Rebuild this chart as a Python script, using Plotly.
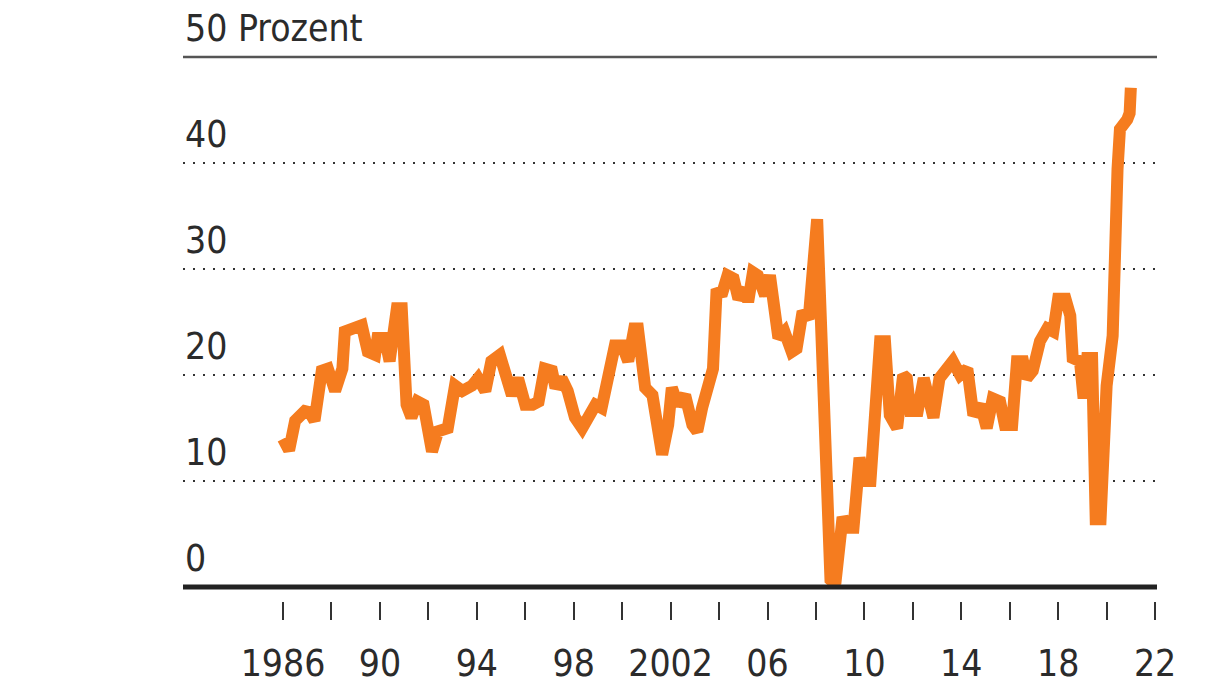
import plotly.graph_objects as go

# Anteil in Prozent (Jahr als Dezimalzahl)
years = [
    1986.0, 1986.25, 1986.5, 1986.9, 1987.1, 1987.3, 1987.6, 1987.85, 1988.15, 1988.45,
    1988.55, 1988.95, 1989.25, 1989.5, 1989.8, 1989.9, 1990.2, 1990.4, 1990.7, 1990.9,
    1991.1, 1991.3, 1991.55, 1991.8, 1992.0, 1992.15, 1992.4, 1992.8, 1993.1, 1993.4,
    1993.8, 1994.05, 1994.35, 1994.6, 1994.95, 1995.15, 1995.45, 1995.7, 1996.0, 1996.3,
    1996.55, 1996.8, 1997.1, 1997.25, 1997.5, 1997.75, 1998.05, 1998.35, 1998.6, 1998.9,
    1999.15, 1999.4, 1999.7, 2000.0, 2000.25, 2000.5, 2000.65, 2000.8, 2000.95, 2001.25,
    2001.5, 2001.65, 2001.9, 2002.05, 2002.3, 2002.6, 2002.9, 2003.1, 2003.3, 2003.55,
    2003.75, 2003.9, 2004.1, 2004.35, 2004.6, 2004.8, 2005.1, 2005.2, 2005.4, 2005.6,
    2005.9, 2006.1, 2006.3, 2006.45, 2006.7, 2007.0, 2007.2, 2007.45, 2007.7, 2008.05,
    2008.6, 2008.8, 2009.1, 2009.3, 2009.55, 2009.8, 2010.0, 2010.25, 2010.65, 2010.85,
    2011.05, 2011.35, 2011.6, 2011.75, 2011.9, 2012.2, 2012.45, 2012.65, 2012.85, 2013.1,
    2013.4, 2013.65, 2013.95, 2014.25, 2014.5, 2014.8, 2015.05, 2015.3, 2015.6, 2015.8,
    2016.1, 2016.3, 2016.55, 2016.7, 2016.95, 2017.25, 2017.55, 2017.8, 2018.0, 2018.3,
    2018.5, 2018.6, 2018.9, 2019.05, 2019.2, 2019.4, 2019.55, 2019.75, 2020.0, 2020.25,
    2020.45, 2020.55, 2020.85, 2020.95, 2021.0,
]
share = [
    14.0, 12.9, 15.7, 16.6, 16.5, 15.7, 20.4, 20.6, 18.5, 20.6,
    24.1, 24.4, 24.7, 22.2, 21.9, 23.5, 23.5, 21.3, 26.3, 26.3,
    17.2, 16.0, 17.5, 17.2, 13.4, 12.8, 14.7, 15.0, 19.0, 18.5,
    19.0, 19.7, 18.5, 21.3, 21.9, 20.0, 18.1, 19.7, 17.2, 17.2,
    17.5, 20.6, 20.4, 18.8, 19.7, 18.5, 16.0, 15.0, 16.0, 17.2,
    16.9, 20.0, 22.8, 22.8, 21.3, 24.4, 24.4, 21.6, 18.8, 18.1,
    14.4, 12.5, 15.3, 18.8, 17.2, 18.1, 15.3, 14.7, 16.9, 19.0,
    20.6, 28.1, 27.5, 29.4, 29.1, 27.2, 28.1, 26.9, 29.7, 29.4,
    27.5, 29.4, 26.5, 23.5, 24.1, 22.2, 22.5, 26.0, 25.3, 34.7,
    0.7, 0.3, 6.6, 5.6, 5.6, 12.2, 10.0, 10.0, 23.2, 23.2,
    16.2, 15.0, 20.0, 19.7, 16.6, 16.6, 19.7, 17.2, 16.0, 19.7,
    20.4, 21.3, 20.0, 20.6, 16.2, 17.2, 15.0, 17.8, 17.5, 15.3,
    15.3, 21.3, 21.3, 19.7, 20.4, 23.2, 24.4, 24.1, 27.2, 27.2,
    25.6, 21.6, 21.3, 17.8, 21.6, 21.6, 6.4, 6.4, 19.0, 23.7,
    39.4, 43.2, 44.1, 44.7, 47.1,
]

tick_years = list(range(1986, 2023, 2))
tick_labels = ["1986", "", "90", "", "94", "", "98", "", "2002", "",
               "06", "", "10", "", "14", "", "18", "", "22"]
grid_values = [10, 20, 30, 40]
y_labels = ["0", "10", "20", "30", "40", "50 Prozent"]
y_label_values = [0, 10, 20, 30, 40, 50]

FONT = "DejaVu Sans Condensed, Liberation Sans Narrow, sans-serif"
TEXT = "#2b2b2b"

fig = go.Figure()
fig.add_trace(go.Scatter(
    x=years, y=share, mode="lines",
    line=dict(color="#F57C1F", width=12),
    hoverinfo="skip", showlegend=False,
))

# Linie oben bei 50 und kraeftige Nulllinie
fig.add_shape(type="line", xref="paper", x0=0, x1=1, yref="y", y0=50, y1=50,
              line=dict(color="#555555", width=2.5), layer="below")
fig.add_shape(type="line", xref="paper", x0=0, x1=1, yref="y", y0=0, y1=0,
              line=dict(color="#222222", width=5), layer="above")

for val, lab in zip(y_label_values, y_labels):
    fig.add_annotation(x=0, xref="paper", xanchor="left", y=val, yref="y",
                       yanchor="bottom", yshift=5, text=lab, showarrow=False,
                       font=dict(family=FONT, size=37, color=TEXT))

fig.update_layout(
    width=1225, height=689,
    margin=dict(l=175, r=76, t=42, b=93),
    paper_bgcolor="white", plot_bgcolor="white",
    font=dict(family=FONT, color=TEXT),
    xaxis=dict(
        range=[1981.87, 2022.08],
        tickvals=tick_years, ticktext=tick_labels,
        ticks="outside", ticklen=18, tickwidth=2, tickcolor="#333333",
        tickfont=dict(family=FONT, size=37, color=TEXT),
        ticklabelstandoff=12,
        showgrid=False, zeroline=False, showline=False,
    ),
    yaxis=dict(
        range=[-1.31, 50.66],
        tickvals=grid_values, showticklabels=False,
        showgrid=True, gridcolor="#333333", gridwidth=2, griddash="2px,8px",
        zeroline=False, showline=False, ticks="",
    ),
)

fig.write_html("out.html")
